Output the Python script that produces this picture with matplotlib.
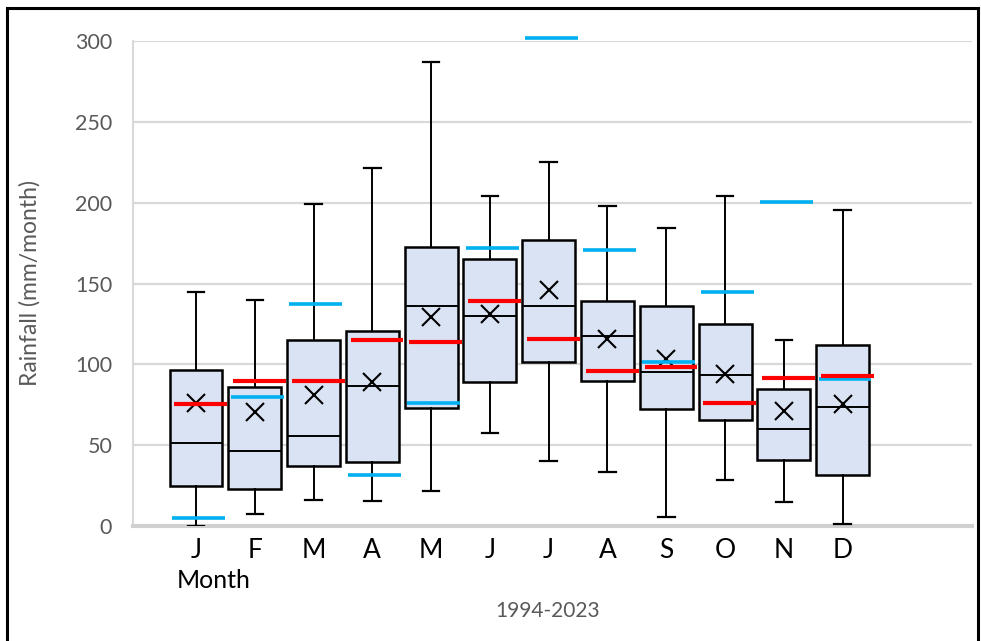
import matplotlib
matplotlib.use("Agg")
import matplotlib.pyplot as plt
from matplotlib.patches import Rectangle

plt.rcParams['font.family'] = ['Lato', 'DejaVu Sans']

months = ["J", "F", "M", "A", "M", "J", "J", "A", "S", "O", "N", "D"]
whisker_low = [0, 7.4, 16, 15.2, 21.6, 57.8, 40.3, 33.1, 5.8, 28.4, 15, 1]
q1 = [24.7, 22.6, 37.4, 39.7, 73, 88.9, 101.2, 89.5, 72.2, 65.8, 40.7, 31.5]
median = [51.4, 46.3, 55.6, 86.4, 135.8, 130, 135.8, 117.7, 95.3, 93.6, 59.7, 73.7]
q3 = [96.3, 86, 114.8, 120.6, 172.8, 165.4, 177, 138.9, 135.8, 124.9, 85, 111.9]
whisker_high = [145, 140, 199, 221.6, 287.2, 203.9, 225.1, 198.1, 184.6, 203.9, 114.8, 195.5]
mean = [75.8, 70.6, 80.9, 89, 129.2, 130.9, 146.1, 115.8, 103.5, 94.2, 71.2, 75.7]
red_values = [75.3, 89.5, 89.5, 115.2, 113.6, 139, 115.8, 96.1, 98.4, 76.3, 91.8, 92.8]
blue_values = [4.9, 79.6, 137.5, 31.5, 76.3, 172, 301.6, 170.8, 101.2, 145, 200.2, 90.7]
yticks = [0, 50, 100, 150, 200, 250, 300]

fig = plt.figure(figsize=(9.81, 6.41), dpi=100)
ax = fig.add_axes([133/981, 1 - 526/641, (972 - 133)/981, (526 - 41)/641])

stats = []
for i in range(len(months)):
    stats.append(dict(whislo=whisker_low[i], q1=q1[i], med=median[i], q3=q3[i],
                      whishi=whisker_high[i], mean=mean[i], fliers=[], label=months[i]))

pos = list(range(len(months)))
ax.bxp(stats, positions=pos, widths=0.9, patch_artist=True, showmeans=True,
       showfliers=False,
       boxprops=dict(facecolor='#dae3f3', edgecolor='black', linewidth=1.8),
       medianprops=dict(color='black', linewidth=1.4),
       whiskerprops=dict(color='black', linewidth=1.4),
       capprops=dict(color='black', linewidth=1.6),
       capwidths=0.28,
       meanprops=dict(marker='x', markeredgecolor='black', markersize=13,
                      markeredgewidth=1.5),
       zorder=3)

for i in pos:
    ax.hlines(blue_values[i], i + 0.04 - 0.45, i + 0.04 + 0.45, color='#00b0f0',
              linewidth=2.6, zorder=4, clip_on=False)
    ax.hlines(red_values[i], i + 0.08 - 0.45, i + 0.08 + 0.45, color='#ff0000',
              linewidth=3.0, zorder=5, clip_on=False)

ax.set_xlim(-1.071, 13.2)
ax.set_ylim(0, 300)
ax.set_yticks(yticks)
ax.set_yticklabels([str(v) for v in yticks])
ax.set_xticks(pos)
ax.set_xticklabels(months)
ax.tick_params(axis='y', length=0, pad=15, labelsize=15.5, labelcolor='#595959')
ax.tick_params(axis='x', length=0, pad=9, labelsize=19, labelcolor='black')
ax.grid(axis='y', color='#d9d9d9', linewidth=1.6, zorder=0)
ax.set_axisbelow(True)
for s in ['top', 'right']:
    ax.spines[s].set_visible(False)
ax.spines['left'].set_color('#d9d9d9')
ax.spines['left'].set_linewidth(1.5)
ax.spines['bottom'].set_color('#d0d0d0')
ax.spines['bottom'].set_linewidth(3)

ax.set_ylabel('Rainfall (mm/month)', fontsize=16.5, color='#595959', labelpad=0)
ax.yaxis.set_label_coords((41 - 133)/(972 - 133), (526 - 283)/(526 - 41))

fig.text(177/981, 1 - 581/641, 'Month', fontsize=18, color='black', ha='left', va='center')
fig.text(548/981, 1 - 611/641, '1994-2023', fontsize=15, color='#595959', ha='center', va='center')

fig.patches.append(Rectangle((7/981, -0.05), (978 - 7)/981, 1.05 - 8/641,
                             transform=fig.transFigure, fill=False,
                             edgecolor='black', linewidth=2.2))

fig.savefig('out.png', dpi=100)
